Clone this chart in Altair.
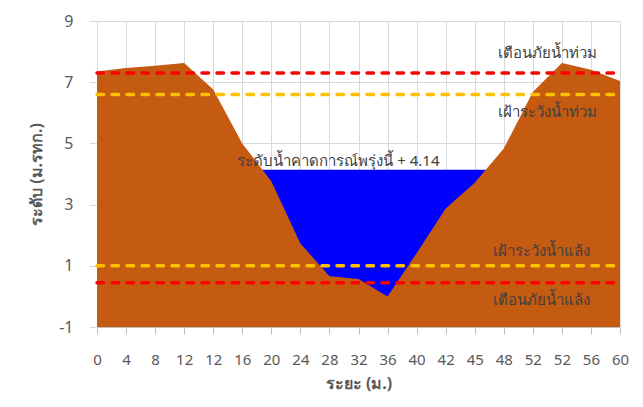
import altair as alt
import pandas as pd

# Category axis labels (Excel-style, duplicates kept)
x_labels = ["0", "4", "8", "12", "12", "16", "20", "24", "28", "32", "36",
            "40", "42", "45", "48", "52", "52", "56", "60"]
# Ground profile (m. MSL) at each category
ground = [7.35, 7.46, 7.54, 7.63, 6.76, 5.0, 3.76, 1.73, 0.66, 0.57, 0.0,
          1.41, 2.87, 3.71, 4.83, 6.68, 7.63, 7.41, 7.04]
water_level = 4.14
flood_warning = 7.3
flood_watch = 6.6
drought_watch = 1.0
drought_warning = 0.45
y_ticks = [-1, 1, 3, 5, 7, 9]

idx = list(range(len(x_labels)))
df = pd.DataFrame({"i": idx, "ground": ground, "water": [water_level] * len(idx)})

lines_df = pd.DataFrame({
    "name": ["flood_warning", "flood_watch", "drought_watch", "drought_warning"],
    "y": [flood_warning, flood_watch, drought_watch, drought_warning],
    "x0": [0, 0, 0, 0],
    "x1": [len(idx) - 1] * 4,
    "color": ["#FF0000", "#FFC000", "#FFC000", "#FF0000"],
})

label_df = pd.DataFrame({
    "text": ["เตือนภัยน้ำท่วม", "เฝ้าระวังน้ำท่วม", "ระดับน้ำคาดการณ์พรุ่งนี้ + 4.14",
             "เฝ้าระวังน้ำแล้ง", "เตือนภัยน้ำแล้ง"],
    "x": [15.5, 15.5, 8.31, 15.3, 15.3],
    "y": [7.95, 6.03, 4.42, 1.5, -0.13],
})

FONT = "Noto Sans"
label_expr = "[" + ",".join("'%s'" % s for s in x_labels) + "][datum.value]"

xscale = alt.Scale(domain=[0, len(idx) - 1], nice=False, zero=False)
yscale = alt.Scale(domain=[-1, 9], nice=False, zero=False)

GRID = "#d9d9d9"
TICK = "#bfbfbf"

xaxis = alt.Axis(values=idx, labelExpr=label_expr, title="ระยะ (ม.)",
                 grid=True, gridColor=GRID, gridWidth=1, gridOpacity=1,
                 domainColor=TICK, domainWidth=1, labelOverlap=False,
                 labelFlush=False,
                 tickColor=TICK, tickSize=7, tickWidth=1, tickOpacity=1,
                 labelPadding=18,
                 labelFontSize=15, labelColor="#595959", labelFont=FONT,
                 titleFont=FONT, titleFontSize=16, titleColor="#595959",
                 titleFontWeight="bold", titlePadding=8)
yaxis = alt.Axis(values=y_ticks, title="ระดับ (ม.รทก.)",
                 labelExpr="toString(datum.value)",
                 grid=True, gridColor=GRID, gridWidth=1, gridOpacity=1,
                 domain=False, labelOverlap=False, labelFlush=False,
                 tickColor=GRID, tickSize=8, tickWidth=1, tickOpacity=1,
                 labelPadding=16,
                 labelFontSize=16, labelColor="#595959", labelFont=FONT,
                 titleFont=FONT, titleFontSize=16, titleColor="#595959",
                 titleFontWeight="bold", titlePadding=14)

base = alt.Chart(df)

water = base.mark_area(color="#0000FF", opacity=1).encode(
    x=alt.X("i:Q", scale=xscale, axis=xaxis),
    y=alt.Y("water:Q", scale=yscale, axis=yaxis),
    y2=alt.datum(-1),
)

terrain = base.mark_area(color="#C55A11", opacity=1).encode(
    x=alt.X("i:Q", scale=xscale, axis=xaxis),
    y=alt.Y("ground:Q", scale=yscale, axis=yaxis),
    y2=alt.datum(-1),
)

rules = alt.Chart(lines_df).mark_rule(strokeWidth=3.5, strokeDash=[6.5, 8.5],
                                      strokeCap="round").encode(
    x=alt.X("x0:Q", scale=xscale, axis=xaxis),
    x2="x1:Q",
    y=alt.Y("y:Q", scale=yscale, axis=yaxis),
    color=alt.Color("color:N", scale=None),
)

texts = alt.Chart(label_df).mark_text(fontSize=15, color="#404040", font=FONT,
                                      baseline="middle", align="center").encode(
    x=alt.X("x:Q", scale=xscale, axis=xaxis),
    y=alt.Y("y:Q", scale=yscale, axis=yaxis),
    text="text:N",
)

chart = alt.layer(water, terrain, rules, texts).properties(
    width=523, height=306,
    autosize=alt.AutoSizeParams(type="none"),
    padding={"left": 89, "top": 13, "right": 15, "bottom": 80},
    background="white",
).configure_view(stroke=None)

chart.save("out.html", embed_options={"renderer": "svg", "actions": False})
